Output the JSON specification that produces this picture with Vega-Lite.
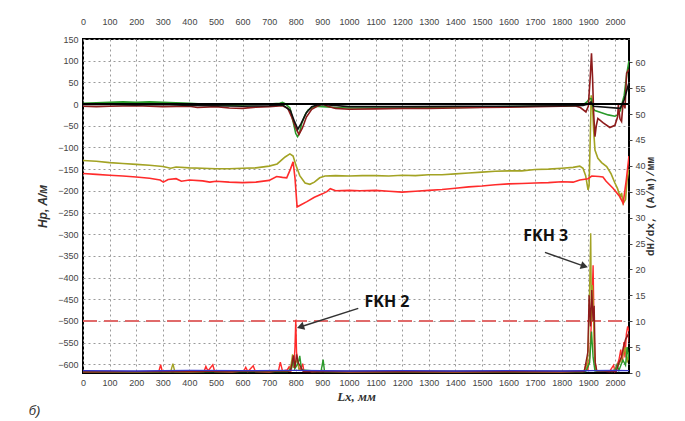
{
  "$schema": "https://vega.github.io/schema/vega-lite/v6.json",
  "width": 546,
  "height": 334,
  "autosize": "none",
  "padding": {"left": 83, "top": 39, "right": 56, "bottom": 48},
  "background": "#ffffff",
  "title": {"text": "б)", "orient": "bottom", "anchor": "start", "frame": "bounds", "font": "Liberation Sans", "fontStyle": "italic", "fontWeight": "normal", "fontSize": 13, "color": "#333", "offset": 2, "dx": -8},
  "config": {
    "view": {"stroke": "#000", "strokeWidth": 2},
    "axis": {"labelFont": "Liberation Sans", "labelFontSize": 9, "labelColor": "#444", "gridColor": "#9a9a9a", "gridDash": [2, 3], "gridWidth": 1, "gridOpacity": 1, "domain": false, "ticks": false, "labelOverlap": false, "format": "d"}
  },
  "datasets": {
    "h": [
      {"s": "olive", "x": 0, "v": -130}, {"s": "olive", "x": 50, "v": -132}, {"s": "olive", "x": 100, "v": -135}, {"s": "olive", "x": 150, "v": -137}, {"s": "olive", "x": 200, "v": -139}, {"s": "olive", "x": 250, "v": -141}, {"s": "olive", "x": 300, "v": -144}, {"s": "olive", "x": 330, "v": -148}, {"s": "olive", "x": 350, "v": -145}, {"s": "olive", "x": 400, "v": -147}, {"s": "olive", "x": 450, "v": -148}, {"s": "olive", "x": 500, "v": -149}, {"s": "olive", "x": 550, "v": -149}, {"s": "olive", "x": 600, "v": -148}, {"s": "olive", "x": 650, "v": -147}, {"s": "olive", "x": 700, "v": -143}, {"s": "olive", "x": 730, "v": -138}, {"s": "olive", "x": 760, "v": -122}, {"s": "olive", "x": 778, "v": -115}, {"s": "olive", "x": 790, "v": -120}, {"s": "olive", "x": 800, "v": -140}, {"s": "olive", "x": 815, "v": -165}, {"s": "olive", "x": 835, "v": -182}, {"s": "olive", "x": 853, "v": -185}, {"s": "olive", "x": 870, "v": -180}, {"s": "olive", "x": 890, "v": -170}, {"s": "olive", "x": 910, "v": -166}, {"s": "olive", "x": 950, "v": -165}, {"s": "olive", "x": 1000, "v": -166}, {"s": "olive", "x": 1050, "v": -165}, {"s": "olive", "x": 1100, "v": -165}, {"s": "olive", "x": 1150, "v": -166}, {"s": "olive", "x": 1200, "v": -164}, {"s": "olive", "x": 1250, "v": -165}, {"s": "olive", "x": 1300, "v": -163}, {"s": "olive", "x": 1350, "v": -163}, {"s": "olive", "x": 1400, "v": -161}, {"s": "olive", "x": 1450, "v": -159}, {"s": "olive", "x": 1500, "v": -157}, {"s": "olive", "x": 1550, "v": -155}, {"s": "olive", "x": 1600, "v": -154}, {"s": "olive", "x": 1650, "v": -154}, {"s": "olive", "x": 1700, "v": -151}, {"s": "olive", "x": 1750, "v": -150}, {"s": "olive", "x": 1800, "v": -148}, {"s": "olive", "x": 1843, "v": -146}, {"s": "olive", "x": 1868, "v": -143}, {"s": "olive", "x": 1880, "v": -148}, {"s": "olive", "x": 1890, "v": -165}, {"s": "olive", "x": 1899, "v": -198}, {"s": "olive", "x": 1903, "v": -188}, {"s": "olive", "x": 1908, "v": -60}, {"s": "olive", "x": 1911, "v": 20}, {"s": "olive", "x": 1915, "v": 5}, {"s": "olive", "x": 1920, "v": -60}, {"s": "olive", "x": 1925, "v": -106}, {"s": "olive", "x": 1936, "v": -125}, {"s": "olive", "x": 1950, "v": -135}, {"s": "olive", "x": 1969, "v": -144}, {"s": "olive", "x": 1985, "v": -160}, {"s": "olive", "x": 2000, "v": -182}, {"s": "olive", "x": 2010, "v": -195}, {"s": "olive", "x": 2020, "v": -215}, {"s": "olive", "x": 2025, "v": -205}, {"s": "olive", "x": 2031, "v": -229}, {"s": "olive", "x": 2040, "v": -220}, {"s": "olive", "x": 2046, "v": -175}, {"s": "olive", "x": 2053, "v": -150},
      {"s": "red", "x": 0, "v": -160}, {"s": "red", "x": 50, "v": -162}, {"s": "red", "x": 100, "v": -164}, {"s": "red", "x": 150, "v": -166}, {"s": "red", "x": 200, "v": -168}, {"s": "red", "x": 250, "v": -171}, {"s": "red", "x": 290, "v": -175}, {"s": "red", "x": 302, "v": -180}, {"s": "red", "x": 320, "v": -174}, {"s": "red", "x": 350, "v": -172}, {"s": "red", "x": 370, "v": -178}, {"s": "red", "x": 400, "v": -175}, {"s": "red", "x": 450, "v": -177}, {"s": "red", "x": 477, "v": -180}, {"s": "red", "x": 500, "v": -178}, {"s": "red", "x": 550, "v": -180}, {"s": "red", "x": 600, "v": -181}, {"s": "red", "x": 650, "v": -180}, {"s": "red", "x": 700, "v": -176}, {"s": "red", "x": 728, "v": -167}, {"s": "red", "x": 750, "v": -169}, {"s": "red", "x": 766, "v": -170}, {"s": "red", "x": 780, "v": -150}, {"s": "red", "x": 790, "v": -133}, {"s": "red", "x": 797, "v": -170}, {"s": "red", "x": 805, "v": -237}, {"s": "red", "x": 820, "v": -232}, {"s": "red", "x": 842, "v": -225}, {"s": "red", "x": 870, "v": -215}, {"s": "red", "x": 900, "v": -207}, {"s": "red", "x": 917, "v": -202}, {"s": "red", "x": 930, "v": -195}, {"s": "red", "x": 950, "v": -200}, {"s": "red", "x": 1000, "v": -199}, {"s": "red", "x": 1041, "v": -200}, {"s": "red", "x": 1100, "v": -199}, {"s": "red", "x": 1150, "v": -201}, {"s": "red", "x": 1200, "v": -203}, {"s": "red", "x": 1250, "v": -201}, {"s": "red", "x": 1300, "v": -199}, {"s": "red", "x": 1350, "v": -197}, {"s": "red", "x": 1400, "v": -194}, {"s": "red", "x": 1450, "v": -191}, {"s": "red", "x": 1500, "v": -189}, {"s": "red", "x": 1550, "v": -186}, {"s": "red", "x": 1600, "v": -184}, {"s": "red", "x": 1650, "v": -183}, {"s": "red", "x": 1700, "v": -182}, {"s": "red", "x": 1750, "v": -181}, {"s": "red", "x": 1800, "v": -179}, {"s": "red", "x": 1843, "v": -180}, {"s": "red", "x": 1868, "v": -175}, {"s": "red", "x": 1899, "v": -172}, {"s": "red", "x": 1913, "v": -166}, {"s": "red", "x": 1940, "v": -167}, {"s": "red", "x": 1955, "v": -168}, {"s": "red", "x": 1967, "v": -178}, {"s": "red", "x": 1993, "v": -194}, {"s": "red", "x": 2018, "v": -213}, {"s": "red", "x": 2031, "v": -229}, {"s": "red", "x": 2043, "v": -174}, {"s": "red", "x": 2053, "v": -120},
      {"s": "green", "x": 0, "v": 2}, {"s": "green", "x": 50, "v": 3}, {"s": "green", "x": 100, "v": 4}, {"s": "green", "x": 150, "v": 5}, {"s": "green", "x": 200, "v": 4}, {"s": "green", "x": 250, "v": 5}, {"s": "green", "x": 300, "v": 4}, {"s": "green", "x": 350, "v": 3}, {"s": "green", "x": 400, "v": 2}, {"s": "green", "x": 450, "v": 0}, {"s": "green", "x": 500, "v": -2}, {"s": "green", "x": 550, "v": -3}, {"s": "green", "x": 600, "v": -2}, {"s": "green", "x": 650, "v": -1}, {"s": "green", "x": 700, "v": 0}, {"s": "green", "x": 740, "v": 2}, {"s": "green", "x": 750, "v": 4}, {"s": "green", "x": 760, "v": 1}, {"s": "green", "x": 778, "v": -9}, {"s": "green", "x": 790, "v": -40}, {"s": "green", "x": 800, "v": -68}, {"s": "green", "x": 807, "v": -75}, {"s": "green", "x": 815, "v": -65}, {"s": "green", "x": 822, "v": -45}, {"s": "green", "x": 835, "v": -25}, {"s": "green", "x": 846, "v": -14}, {"s": "green", "x": 871, "v": -5}, {"s": "green", "x": 900, "v": -6}, {"s": "green", "x": 950, "v": -8}, {"s": "green", "x": 1000, "v": -9}, {"s": "green", "x": 1100, "v": -9}, {"s": "green", "x": 1200, "v": -9}, {"s": "green", "x": 1300, "v": -8}, {"s": "green", "x": 1400, "v": -8}, {"s": "green", "x": 1500, "v": -7}, {"s": "green", "x": 1600, "v": -6}, {"s": "green", "x": 1700, "v": -5}, {"s": "green", "x": 1800, "v": -5}, {"s": "green", "x": 1850, "v": -4}, {"s": "green", "x": 1880, "v": -2}, {"s": "green", "x": 1895, "v": 5}, {"s": "green", "x": 1905, "v": 13}, {"s": "green", "x": 1912, "v": 12}, {"s": "green", "x": 1918, "v": -10}, {"s": "green", "x": 1925, "v": -15}, {"s": "green", "x": 1950, "v": -20}, {"s": "green", "x": 1975, "v": -25}, {"s": "green", "x": 2000, "v": -28}, {"s": "green", "x": 2010, "v": -25}, {"s": "green", "x": 2020, "v": -15}, {"s": "green", "x": 2035, "v": 20}, {"s": "green", "x": 2045, "v": 70}, {"s": "green", "x": 2053, "v": 100},
      {"s": "maroon", "x": 0, "v": -5}, {"s": "maroon", "x": 50, "v": -6}, {"s": "maroon", "x": 100, "v": -5}, {"s": "maroon", "x": 200, "v": -4}, {"s": "maroon", "x": 300, "v": -6}, {"s": "maroon", "x": 400, "v": -5}, {"s": "maroon", "x": 430, "v": -8}, {"s": "maroon", "x": 500, "v": -6}, {"s": "maroon", "x": 550, "v": -9}, {"s": "maroon", "x": 600, "v": -10}, {"s": "maroon", "x": 650, "v": -7}, {"s": "maroon", "x": 700, "v": -6}, {"s": "maroon", "x": 750, "v": -4}, {"s": "maroon", "x": 770, "v": -10}, {"s": "maroon", "x": 785, "v": -30}, {"s": "maroon", "x": 800, "v": -55}, {"s": "maroon", "x": 812, "v": -70}, {"s": "maroon", "x": 825, "v": -55}, {"s": "maroon", "x": 840, "v": -30}, {"s": "maroon", "x": 860, "v": -12}, {"s": "maroon", "x": 880, "v": -5}, {"s": "maroon", "x": 900, "v": 0}, {"s": "maroon", "x": 920, "v": -5}, {"s": "maroon", "x": 950, "v": -10}, {"s": "maroon", "x": 1000, "v": -12}, {"s": "maroon", "x": 1100, "v": -11}, {"s": "maroon", "x": 1200, "v": -10}, {"s": "maroon", "x": 1300, "v": -10}, {"s": "maroon", "x": 1400, "v": -9}, {"s": "maroon", "x": 1500, "v": -8}, {"s": "maroon", "x": 1600, "v": -7}, {"s": "maroon", "x": 1700, "v": -6}, {"s": "maroon", "x": 1800, "v": -5}, {"s": "maroon", "x": 1850, "v": -4}, {"s": "maroon", "x": 1870, "v": -8}, {"s": "maroon", "x": 1891, "v": -18}, {"s": "maroon", "x": 1900, "v": -5}, {"s": "maroon", "x": 1907, "v": 60}, {"s": "maroon", "x": 1912, "v": 117}, {"s": "maroon", "x": 1916, "v": 60}, {"s": "maroon", "x": 1920, "v": -20}, {"s": "maroon", "x": 1925, "v": -75}, {"s": "maroon", "x": 1930, "v": -50}, {"s": "maroon", "x": 1936, "v": -33}, {"s": "maroon", "x": 1955, "v": -43}, {"s": "maroon", "x": 1981, "v": -54}, {"s": "maroon", "x": 2000, "v": -49}, {"s": "maroon", "x": 2010, "v": -30}, {"s": "maroon", "x": 2013, "v": -2}, {"s": "maroon", "x": 2019, "v": -34}, {"s": "maroon", "x": 2025, "v": -40}, {"s": "maroon", "x": 2031, "v": 5}, {"s": "maroon", "x": 2038, "v": -10}, {"s": "maroon", "x": 2044, "v": 71}, {"s": "maroon", "x": 2053, "v": 80},
      {"s": "black", "x": 0, "v": -1}, {"s": "black", "x": 100, "v": -1}, {"s": "black", "x": 200, "v": -2}, {"s": "black", "x": 300, "v": -1}, {"s": "black", "x": 400, "v": -3}, {"s": "black", "x": 500, "v": -4}, {"s": "black", "x": 600, "v": -5}, {"s": "black", "x": 700, "v": -4}, {"s": "black", "x": 750, "v": -2}, {"s": "black", "x": 780, "v": -15}, {"s": "black", "x": 795, "v": -40}, {"s": "black", "x": 808, "v": -58}, {"s": "black", "x": 820, "v": -45}, {"s": "black", "x": 840, "v": -20}, {"s": "black", "x": 860, "v": -6}, {"s": "black", "x": 880, "v": -2}, {"s": "black", "x": 900, "v": -1}, {"s": "black", "x": 1000, "v": -6}, {"s": "black", "x": 1200, "v": -6}, {"s": "black", "x": 1400, "v": -5}, {"s": "black", "x": 1600, "v": -5}, {"s": "black", "x": 1800, "v": -4}, {"s": "black", "x": 1880, "v": -3}, {"s": "black", "x": 1900, "v": 0}, {"s": "black", "x": 1910, "v": 5}, {"s": "black", "x": 1920, "v": -5}, {"s": "black", "x": 2020, "v": -10}, {"s": "black", "x": 2035, "v": 10}, {"s": "black", "x": 2053, "v": 50}
    ],
    "refs": [
      {"s": "zero", "x": 0, "v": 0}, {"s": "zero", "x": 2053, "v": 0},
      {"s": "limit", "x": 0, "v": -500}, {"s": "limit", "x": 2053, "v": -500}
    ],
    "g": [
      {"s": "red", "x": 0, "g": 0.2}, {"s": "red", "x": 100, "g": 0.3}, {"s": "red", "x": 200, "g": 0.2}, {"s": "red", "x": 285, "g": 0.3}, {"s": "red", "x": 292, "g": 1.6}, {"s": "red", "x": 298, "g": 0.3}, {"s": "red", "x": 400, "g": 0.2}, {"s": "red", "x": 455, "g": 0.3}, {"s": "red", "x": 462, "g": 1.3}, {"s": "red", "x": 470, "g": 0.4}, {"s": "red", "x": 488, "g": 1.6}, {"s": "red", "x": 495, "g": 0.3}, {"s": "red", "x": 560, "g": 0.2}, {"s": "red", "x": 605, "g": 0.4}, {"s": "red", "x": 612, "g": 1.1}, {"s": "red", "x": 620, "g": 0.3}, {"s": "red", "x": 640, "g": 1.4}, {"s": "red", "x": 648, "g": 0.3}, {"s": "red", "x": 700, "g": 0.2}, {"s": "red", "x": 735, "g": 0.4}, {"s": "red", "x": 742, "g": 2.1}, {"s": "red", "x": 750, "g": 0.4}, {"s": "red", "x": 768, "g": 0.6}, {"s": "red", "x": 775, "g": 1.2}, {"s": "red", "x": 782, "g": 0.5}, {"s": "red", "x": 788, "g": 2.4}, {"s": "red", "x": 793, "g": 1.0}, {"s": "red", "x": 797, "g": 5}, {"s": "red", "x": 800, "g": 10.3}, {"s": "red", "x": 803, "g": 4}, {"s": "red", "x": 807, "g": 2.6}, {"s": "red", "x": 812, "g": 1.0}, {"s": "red", "x": 818, "g": 0.6}, {"s": "red", "x": 826, "g": 1.8}, {"s": "red", "x": 830, "g": 0.5}, {"s": "red", "x": 860, "g": 0.3}, {"s": "red", "x": 900, "g": 0.4}, {"s": "red", "x": 1000, "g": 0.2}, {"s": "red", "x": 1200, "g": 0.3}, {"s": "red", "x": 1400, "g": 0.2}, {"s": "red", "x": 1600, "g": 0.3}, {"s": "red", "x": 1800, "g": 0.2}, {"s": "red", "x": 1885, "g": 0.4}, {"s": "red", "x": 1893, "g": 2.0}, {"s": "red", "x": 1898, "g": 0.6}, {"s": "red", "x": 1905, "g": 3}, {"s": "red", "x": 1910, "g": 8}, {"s": "red", "x": 1914, "g": 14}, {"s": "red", "x": 1918, "g": 20.8}, {"s": "red", "x": 1921, "g": 11}, {"s": "red", "x": 1924, "g": 3}, {"s": "red", "x": 1930, "g": 0.4}, {"s": "red", "x": 1980, "g": 0.3}, {"s": "red", "x": 1995, "g": 1.5}, {"s": "red", "x": 2000, "g": 0.4}, {"s": "red", "x": 2015, "g": 2.5}, {"s": "red", "x": 2022, "g": 4.5}, {"s": "red", "x": 2028, "g": 2}, {"s": "red", "x": 2034, "g": 6}, {"s": "red", "x": 2038, "g": 3}, {"s": "red", "x": 2043, "g": 7.5}, {"s": "red", "x": 2048, "g": 9}, {"s": "red", "x": 2053, "g": 8},
      {"s": "olive", "x": 0, "g": 0.2}, {"s": "olive", "x": 330, "g": 0.3}, {"s": "olive", "x": 338, "g": 1.8}, {"s": "olive", "x": 345, "g": 0.3}, {"s": "olive", "x": 775, "g": 0.4}, {"s": "olive", "x": 782, "g": 1.5}, {"s": "olive", "x": 788, "g": 3.6}, {"s": "olive", "x": 794, "g": 1.2}, {"s": "olive", "x": 800, "g": 2.0}, {"s": "olive", "x": 806, "g": 2.6}, {"s": "olive", "x": 812, "g": 0.6}, {"s": "olive", "x": 860, "g": 0.3}, {"s": "olive", "x": 1880, "g": 0.3}, {"s": "olive", "x": 1895, "g": 1.2}, {"s": "olive", "x": 1900, "g": 5}, {"s": "olive", "x": 1904, "g": 14}, {"s": "olive", "x": 1909, "g": 27}, {"s": "olive", "x": 1912, "g": 10}, {"s": "olive", "x": 1915, "g": 17}, {"s": "olive", "x": 1919, "g": 12}, {"s": "olive", "x": 1923, "g": 4}, {"s": "olive", "x": 1928, "g": 0.5}, {"s": "olive", "x": 1990, "g": 0.3}, {"s": "olive", "x": 2010, "g": 1.2}, {"s": "olive", "x": 2020, "g": 2.2}, {"s": "olive", "x": 2030, "g": 3.5}, {"s": "olive", "x": 2040, "g": 5}, {"s": "olive", "x": 2046, "g": 2}, {"s": "olive", "x": 2053, "g": 4},
      {"s": "green", "x": 0, "g": 0.2}, {"s": "green", "x": 770, "g": 0.3}, {"s": "green", "x": 785, "g": 1.0}, {"s": "green", "x": 790, "g": 2.9}, {"s": "green", "x": 796, "g": 0.8}, {"s": "green", "x": 810, "g": 2.0}, {"s": "green", "x": 815, "g": 3.3}, {"s": "green", "x": 822, "g": 0.6}, {"s": "green", "x": 895, "g": 0.3}, {"s": "green", "x": 903, "g": 2.6}, {"s": "green", "x": 908, "g": 0.3}, {"s": "green", "x": 1890, "g": 0.3}, {"s": "green", "x": 1905, "g": 2}, {"s": "green", "x": 1912, "g": 8}, {"s": "green", "x": 1918, "g": 3}, {"s": "green", "x": 1925, "g": 0.4}, {"s": "green", "x": 2000, "g": 0.4}, {"s": "green", "x": 2008, "g": 1.6}, {"s": "green", "x": 2015, "g": 0.5}, {"s": "green", "x": 2030, "g": 2.5}, {"s": "green", "x": 2040, "g": 1.5}, {"s": "green", "x": 2046, "g": 5}, {"s": "green", "x": 2053, "g": 2.5},
      {"s": "maroon", "x": 0, "g": 0.2}, {"s": "maroon", "x": 780, "g": 0.4}, {"s": "maroon", "x": 786, "g": 1.8}, {"s": "maroon", "x": 791, "g": 3.4}, {"s": "maroon", "x": 797, "g": 1.0}, {"s": "maroon", "x": 803, "g": 3.6}, {"s": "maroon", "x": 809, "g": 2}, {"s": "maroon", "x": 815, "g": 1.5}, {"s": "maroon", "x": 828, "g": 0.3}, {"s": "maroon", "x": 1885, "g": 0.3}, {"s": "maroon", "x": 1898, "g": 4}, {"s": "maroon", "x": 1903, "g": 15}, {"s": "maroon", "x": 1908, "g": 9}, {"s": "maroon", "x": 1913, "g": 16}, {"s": "maroon", "x": 1918, "g": 10}, {"s": "maroon", "x": 1922, "g": 13}, {"s": "maroon", "x": 1926, "g": 2}, {"s": "maroon", "x": 1932, "g": 0.4}, {"s": "maroon", "x": 2005, "g": 0.3}, {"s": "maroon", "x": 2015, "g": 2}, {"s": "maroon", "x": 2025, "g": 3.2}, {"s": "maroon", "x": 2032, "g": 5}, {"s": "maroon", "x": 2040, "g": 6.5}, {"s": "maroon", "x": 2050, "g": 7.5}, {"s": "maroon", "x": 2053, "g": 6},
      {"s": "blue", "x": 0, "g": 0.45}, {"s": "blue", "x": 200, "g": 0.4}, {"s": "blue", "x": 400, "g": 0.5}, {"s": "blue", "x": 600, "g": 0.45}, {"s": "blue", "x": 800, "g": 0.5}, {"s": "blue", "x": 1000, "g": 0.4}, {"s": "blue", "x": 1200, "g": 0.45}, {"s": "blue", "x": 1400, "g": 0.4}, {"s": "blue", "x": 1600, "g": 0.45}, {"s": "blue", "x": 1800, "g": 0.4}, {"s": "blue", "x": 2000, "g": 0.5}, {"s": "blue", "x": 2053, "g": 0.45}
    ],
    "arrows": [
      {"label": "FKH 2", "x": 1035, "v": -471, "x2": 822, "v2": -513},
      {"label": "FKH 3", "x": 1737, "v": -342, "x2": 1881, "v2": -373}
    ],
    "heads": [
      {"label": "FKH 2", "x": 822, "v": -513},
      {"label": "FKH 3", "x": 1881, "v": -373}
    ],
    "labels": [
      {"label": "FKH 2", "x": 1143, "v": -456},
      {"label": "FKH 3", "x": 1740, "v": -304}
    ]
  },
  "layer": [
    {
      "encoding": {
        "x": {"field": "x", "type": "quantitative", "scale": {"domain": [0, 2053], "nice": false, "zero": false},
              "axis": {"orient": "bottom", "values": [0,100,200,300,400,500,600,700,800,900,1000,1100,1200,1300,1400,1500,1600,1700,1800,1900,2000], "grid": true, "labelOverlap": false, "labelBound": false, "labelPadding": 5, "title": "Lx, мм", "titleFont": "Liberation Serif", "titleFontStyle": "italic", "titleFontWeight": "bold", "titleFontSize": 13, "titleColor": "#333", "titlePadding": 3, "labelFlush": false}},
        "y": {"field": "v", "type": "quantitative", "scale": {"domain": [-620, 150], "nice": false, "zero": false},
              "axis": {"orient": "left", "values": [150,100,50,0,-50,-100,-150,-200,-250,-300,-350,-400,-450,-500,-550,-600], "grid": true, "labelOverlap": false, "labelBound": false, "labelPadding": 5, "title": "Hp, A/м", "titleFont": "Liberation Sans", "titleFontStyle": "italic", "titleFontWeight": "bold", "titleFontSize": 12, "titleColor": "#333", "titlePadding": 8, "labelFlush": false}}
      },
      "layer": [
        {
          "data": {"name": "h"},
          "mark": {"type": "line", "strokeWidth": 1.6, "clip": true},
          "encoding": {
            "color": {"field": "s", "type": "nominal", "scale": {"domain": ["olive", "red", "green", "maroon", "black", "blue"], "range": ["#a3a324", "#ff2b2b", "#2a9a2a", "#8e1c1c", "#111111", "#3535c8"]}, "legend": null}
          }
        },
        {
          "data": {"name": "refs"},
          "transform": [{"filter": "datum.s === 'zero'"}],
          "mark": {"type": "line", "color": "#000000", "strokeWidth": 2},
          "encoding": {}
        },
        {
          "data": {"name": "refs"},
          "transform": [{"filter": "datum.s === 'limit'"}],
          "mark": {"type": "line", "color": "#e06a6a", "strokeWidth": 2, "strokeDash": [14, 7]},
          "encoding": {}
        },
        {
          "data": {"name": "arrows"},
          "mark": {"type": "rule", "color": "#333333", "strokeWidth": 1.5},
          "encoding": {
            "x2": {"field": "x2"},
            "y2": {"field": "v2"}
          }
        },
        {
          "data": {"name": "heads"},
          "transform": [{"filter": "datum.label === 'FKH 2'"}],
          "mark": {"type": "point", "shape": "triangle", "filled": true, "color": "#333333", "size": 70, "angle": 252, "opacity": 1}
        },
        {
          "data": {"name": "heads"},
          "transform": [{"filter": "datum.label === 'FKH 3'"}],
          "mark": {"type": "point", "shape": "triangle", "filled": true, "color": "#333333", "size": 70, "angle": 108, "opacity": 1}
        },
        {
          "data": {"name": "labels"},
          "mark": {"type": "text", "font": "Open Sans", "fontWeight": "bold", "fontSize": 16, "color": "#111111", "align": "center", "baseline": "middle"},
          "encoding": {
            "text": {"field": "label"}
          }
        }
      ]
    },
    {
      "data": {"name": "g"},
      "mark": {"type": "line", "strokeWidth": 1.4, "clip": true},
      "encoding": {
        "x": {"field": "x", "type": "quantitative", "scale": {"domain": [0, 2053], "nice": false, "zero": false},
              "axis": {"orient": "top", "values": [0,100,200,300,400,500,600,700,800,900,1000,1100,1200,1300,1400,1500,1600,1700,1800,1900,2000], "grid": false, "labelOverlap": false, "labelBound": false, "labelPadding": 13, "title": null, "labelFlush": false}},
        "y": {"field": "g", "type": "quantitative", "scale": {"domain": [0, 64.5], "nice": false, "zero": false},
              "axis": {"orient": "right", "values": [0,5,10,15,20,25,30,35,40,45,50,55,60], "grid": false, "labelOverlap": false, "ticks": true, "tickSize": 3, "tickColor": "#444", "labelPadding": 3, "title": "dH/dx, (A/м)/мм", "titleAngle": -90, "titleFont": "Liberation Mono", "titleFontWeight": "bold", "titleFontSize": 11, "titleColor": "#333", "titlePadding": 10, "labelFlush": false}},
        "color": {"field": "s", "type": "nominal", "scale": {"domain": ["olive", "red", "green", "maroon", "black", "blue"], "range": ["#a3a324", "#ff2b2b", "#2a9a2a", "#8e1c1c", "#111111", "#3535c8"]}, "legend": null},
        "strokeWidth": {"condition": {"test": "datum.s === 'blue'", "value": 3}, "value": 1.4}
      }
    }
  ],
  "resolve": {"scale": {"y": "independent"}, "axis": {"x": "independent"}}
}
